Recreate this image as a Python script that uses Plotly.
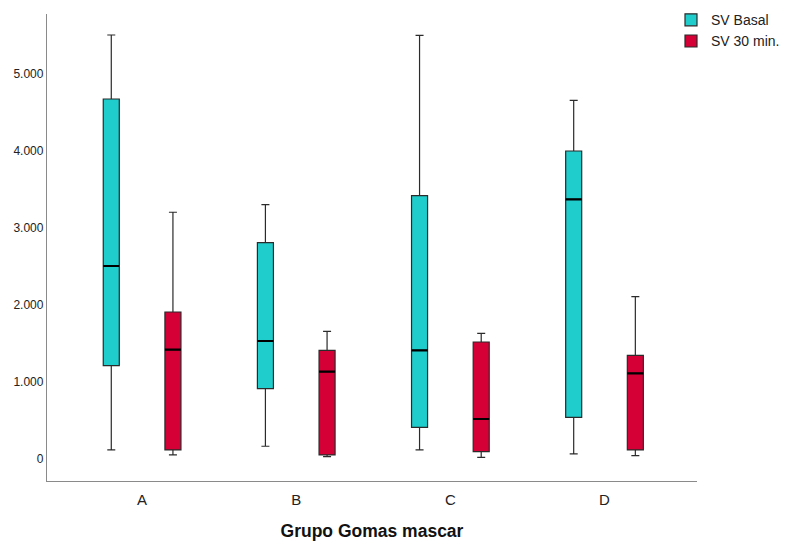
import plotly.graph_objects as go

groups = ["A", "B", "C", "D"]

# SV Basal
basal_min = [117, 165, 117, 65]
basal_q1 = [1212, 913, 411, 541]
basal_med = [2506, 1532, 1411, 3372]
basal_q3 = [4675, 2809, 3420, 4000]
basal_max = [5506, 3303, 5502, 4658]

# SV 30 min.
min30_min = [52, 30, 22, 43]
min30_q1 = [117, 52, 95, 117]
min30_med = [1420, 1134, 519, 1113]
min30_q3 = [1909, 1411, 1519, 1346]
min30_max = [3204, 1658, 1632, 2108]

series = [
    ("SV Basal", "#1ECDCC", basal_min, basal_q1, basal_med, basal_q3, basal_max, "g1"),
    ("SV 30 min.", "#D50036", min30_min, min30_q1, min30_med, min30_q3, min30_max, "g2"),
]

fig = go.Figure()
for name, color, lo, q1, med, q3, hi, og in series:
    fig.add_trace(go.Box(
        name=name, x=groups, q1=q1, median=med, q3=q3,
        lowerfence=lo, upperfence=hi,
        fillcolor=color, line=dict(color="#2b2b2b", width=1.2),
        whiskerwidth=0.5, offsetgroup=og, boxpoints=False,
    ))
for name, color, lo, q1, med, q3, hi, og in series:
    fig.add_trace(go.Box(
        name=name + " median", x=groups, q1=med, median=med, q3=med,
        lowerfence=med, upperfence=med,
        fillcolor="rgba(0,0,0,0)", line=dict(color="#000000", width=2.2),
        whiskerwidth=0, offsetgroup=og, boxpoints=False,
        showlegend=False, hoverinfo="skip",
    ))

# page body adds an 8px offset; margins are set so the plot lands where the reference has it
fig.update_layout(
    width=791, height=533,
    margin=dict(l=39, r=102, t=6, b=60, autoexpand=False),
    paper_bgcolor="white", plot_bgcolor="white",
    boxmode="group", boxgap=0.2, boxgroupgap=0.74,
    separators=",.",
    font=dict(family="Liberation Sans, Arial, sans-serif", color="#222222"),
    showlegend=True,
    legend=dict(x=0.96, y=1.021, xanchor="left", yanchor="top",
                font=dict(size=14, color="#222222"), bgcolor="rgba(0,0,0,0)",
                tracegroupgap=0, itemwidth=30),
    xaxis=dict(showline=True, linecolor="#8a8a8a", linewidth=1.3, showgrid=False,
               ticks="", tickfont=dict(size=15, color="#222222"), ticklabelstandoff=5,
               automargin=False,
               title=dict(text="<b>Grupo Gomas mascar</b>", font=dict(size=17.5, color="#111111"), standoff=26),
               range=[-0.617, 3.6], zeroline=False),
    yaxis=dict(showline=True, linecolor="#8a8a8a", linewidth=1.3, showgrid=False,
               ticks="", tickfont=dict(size=12, color="#222222"), automargin=False,
               tickvals=[0, 1000, 2000, 3000, 4000, 5000], tickformat=",d",
               range=[-286, 5779], zeroline=False),
)

fig.write_html("out.html")
